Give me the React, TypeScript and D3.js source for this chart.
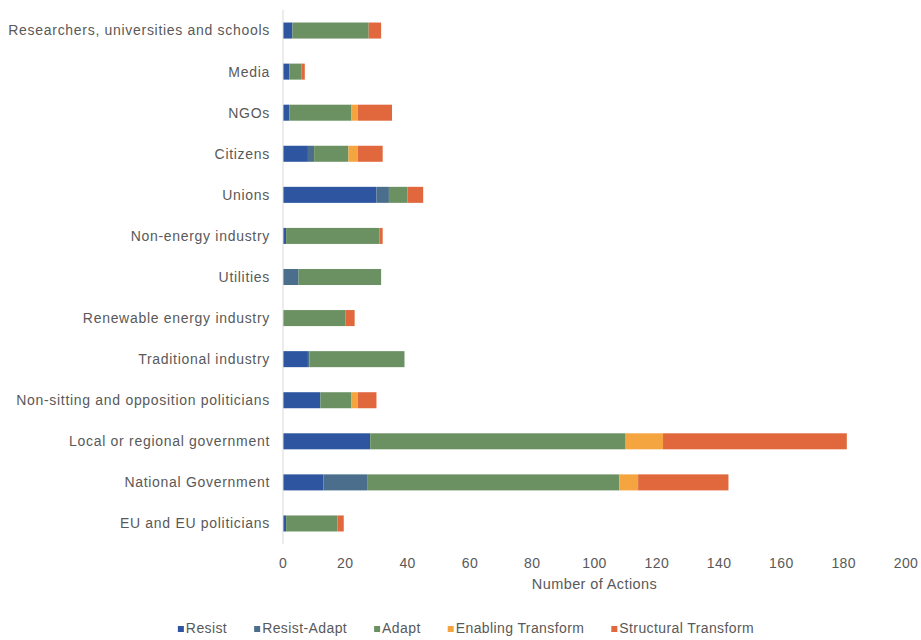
import React, { useEffect, useRef } from "react";
import * as d3 from "d3";

const categories = [
  "Researchers, universities and schools",
  "Media",
  "NGOs",
  "Citizens",
  "Unions",
  "Non-energy industry",
  "Utilities",
  "Renewable energy industry",
  "Traditional industry",
  "Non-sitting and opposition politicians",
  "Local or regional government",
  "National Government",
  "EU and EU politicians",
];

const seriesNames = ["Resist", "Resist-Adapt", "Adapt", "Enabling Transform", "Structural Transform"];

const resist = [3, 2, 2, 8, 30, 1, 0, 0, 8, 12, 28, 13, 1];
const resistAdapt = [0, 0, 0, 2, 4, 0, 5, 0, 0.5, 0, 0, 14, 0];
const adapt = [24.5, 4, 20, 11, 6, 30, 26.5, 20, 30.5, 10, 82, 81, 16.5];
const enabling = [0, 0, 2, 3, 0, 0, 0, 0, 0, 2, 12, 6, 0];
const structural = [4, 1, 11, 8, 5, 1, 0, 3, 0, 6, 59, 29, 2];

const xTicks = [0, 20, 40, 60, 80, 100, 120, 140, 160, 180, 200];

const colors = ["#2d55a0", "#4a6e8c", "#6b9163", "#f5a540", "#e0683c"];

const W = 921;
const H = 640;
const margin = { left: 283, right: 15, top: 10, bottom: 96 };
const textColor = "#595959";
const fontFamily = "'Liberation Sans', Arial, Helvetica, sans-serif";

export default function App() {
  const ref = useRef<SVGSVGElement | null>(null);

  useEffect(() => {
    const svg = d3.select(ref.current);
    svg.selectAll("*").remove();

    const x = d3.scaleLinear().domain([0, 200]).range([margin.left, 906]);
    const y = d3
      .scaleBand<string>()
      .domain(categories)
      .range([margin.top, 544])
      .paddingInner(0.61)
      .paddingOuter(0.305);

    const rows = categories.map((c, i) => ({
      category: c,
      Resist: resist[i],
      "Resist-Adapt": resistAdapt[i],
      Adapt: adapt[i],
      "Enabling Transform": enabling[i],
      "Structural Transform": structural[i],
    }));

    const stacked = d3.stack<any>().keys(seriesNames)(rows);

    const g = svg.append("g");
    stacked.forEach((layer, li) => {
      g.append("g")
        .attr("fill", colors[li])
        .selectAll("rect")
        .data(layer)
        .join("rect")
        .attr("x", (d) => x(d[0]))
        .attr("y", (d) => y(d.data.category)!)
        .attr("width", (d) => Math.max(0, x(d[1]) - x(d[0])))
        .attr("height", y.bandwidth());
    });

    // vertical category axis line
    svg
      .append("line")
      .attr("x1", x(0))
      .attr("x2", x(0))
      .attr("y1", margin.top)
      .attr("y2", 544)
      .attr("stroke", "#d9d9d9")
      .attr("stroke-width", 1);

    // category labels
    svg
      .append("g")
      .selectAll("text")
      .data(categories)
      .join("text")
      .attr("x", 270)
      .attr("y", (d) => y(d)! + y.bandwidth() / 2)
      .attr("dy", "0.35em")
      .attr("text-anchor", "end")
      .attr("fill", textColor)
      .attr("font-family", fontFamily)
      .attr("font-size", 14)
      .attr("letter-spacing", 0.7)
      .text((d) => d);

    // value tick labels
    svg
      .append("g")
      .selectAll("text")
      .data(xTicks)
      .join("text")
      .attr("x", (d) => x(d))
      .attr("y", 568)
      .attr("text-anchor", "middle")
      .attr("fill", textColor)
      .attr("font-family", fontFamily)
      .attr("font-size", 14)
      .attr("letter-spacing", 0.4)
      .text((d) => String(d));

    svg
      .append("text")
      .attr("x", (x(0) + x(200)) / 2)
      .attr("y", 589)
      .attr("text-anchor", "middle")
      .attr("fill", textColor)
      .attr("font-family", fontFamily)
      .attr("font-size", 14.5)
      .attr("letter-spacing", 0.4)
      .text("Number of Actions");

    // legend
    const legend = svg.append("g");
    const items = seriesNames.map((name, i) => {
      const item = legend.append("g");
      item
        .append("rect")
        .attr("x", 0)
        .attr("y", -7)
        .attr("width", 6)
        .attr("height", 6)
        .attr("fill", colors[i]);
      const t = item
        .append("text")
        .attr("x", 8)
        .attr("y", 0)
        .attr("fill", textColor)
        .attr("font-family", fontFamily)
        .attr("font-size", 14)
        .attr("letter-spacing", 0.4)
        .text(name);
      const w = 8 + (t.node() as SVGTextElement).getComputedTextLength();
      return { item, w };
    });
    const gap = 27;
    const total = d3.sum(items, (d) => d.w) + gap * (items.length - 1);
    let cx = 466 - total / 2;
    items.forEach(({ item, w }) => {
      item.attr("transform", `translate(${cx},633)`);
      cx += w + gap;
    });
  }, []);

  return (
    <svg
      ref={ref}
      width={W}
      height={H}
      style={{ position: "absolute", left: 0, top: 0, background: "#fff" }}
    />
  );
}
